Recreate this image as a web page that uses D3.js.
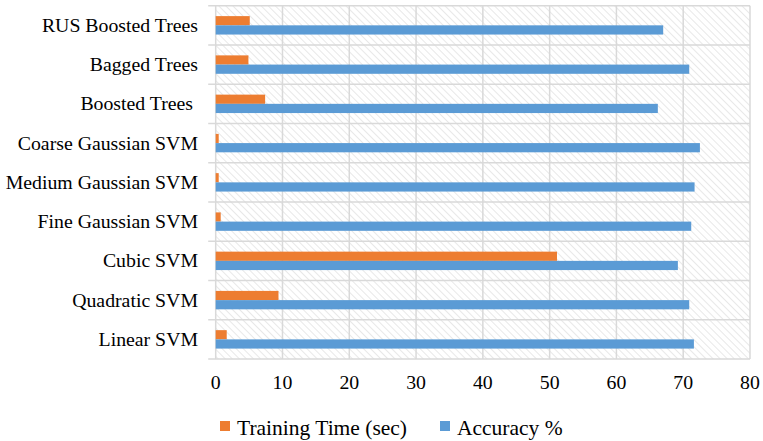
<!DOCTYPE html>
<html>
<head>
<meta charset="utf-8">
<script src="https://cdn.jsdelivr.net/npm/d3@7"></script>
<style>
  html, body { margin: 0; padding: 0; background: #fff; }
  svg { display: block; }
</style>
</head>
<body>
<div id="chart"></div>
<script>
// Classifier models, listed top to bottom
const models = [
  "RUS Boosted Trees", "Bagged Trees", "Boosted Trees ", "Coarse Gaussian SVM",
  "Medium Gaussian SVM", "Fine Gaussian SVM", "Cubic SVM", "Quadratic SVM", "Linear SVM"
];
const trainingTime = [5.1, 4.9, 7.4, 0.45, 0.45, 0.75, 51.1, 9.4, 1.65];
const accuracy = [67.0, 70.9, 66.2, 72.5, 71.7, 71.2, 69.2, 70.9, 71.6];
const seriesNames = ["Training Time (sec)", "Accuracy %"];
const seriesColors = ["#ED7D31", "#5B9BD5"];
const xTicks = [0, 10, 20, 30, 40, 50, 60, 70, 80];

const FONT = "'Liberation Serif', serif";
const W = 763, H = 441;
const plot = { left: 215.7, right: 750, top: 5.7, bottom: 359 };

const svg = d3.select("#chart").append("svg").attr("width", W).attr("height", H);

// Diagonal hatch fill for the plot background
const defs = svg.append("defs");
const pat = defs.append("pattern")
  .attr("id", "hatch").attr("patternUnits", "userSpaceOnUse")
  .attr("width", 5).attr("height", 5)
  .attr("patternTransform", "rotate(-45)");
pat.append("rect").attr("width", 5).attr("height", 5).attr("fill", "#fff");
pat.append("line").attr("x1", 0).attr("y1", 0).attr("x2", 0).attr("y2", 5)
  .attr("stroke", "#e3e3e3").attr("stroke-width", 1.6);

const x = d3.scaleLinear().domain([0, 80]).range([plot.left, plot.right]);
const y = d3.scaleBand().domain(models).range([plot.top, plot.bottom]).padding(0);
const inner = d3.scaleBand().domain(seriesNames)
  .range([0, y.bandwidth()]).paddingOuter(1.13).paddingInner(0);

svg.append("rect")
  .attr("x", plot.left).attr("y", plot.top)
  .attr("width", plot.right - plot.left).attr("height", plot.bottom - plot.top)
  .attr("fill", "url(#hatch)");

// Gridlines
const grid = svg.append("g").attr("stroke", "#d9d9d9").attr("stroke-width", 1.5);
grid.selectAll("line.v").data(xTicks).join("line")
  .attr("x1", d => x(d)).attr("x2", d => x(d))
  .attr("y1", plot.top).attr("y2", plot.bottom);
const bounds = models.map(m => y(m)).concat([plot.bottom]);
grid.selectAll("line.h").data(bounds).join("line")
  .attr("x1", plot.left - 7.5).attr("x2", plot.right)
  .attr("y1", d => d).attr("y2", d => d);

// Bars
const rows = models.map((m, i) => ({ model: m, values: [trainingTime[i], accuracy[i]] }));
const rowG = svg.append("g").selectAll("g").data(rows).join("g")
  .attr("transform", d => `translate(0,${y(d.model)})`);
rowG.selectAll("rect").data(d => d.values.map((v, k) => ({ v, k }))).join("rect")
  .attr("x", x(0))
  .attr("y", d => inner(seriesNames[d.k]))
  .attr("width", d => x(d.v) - x(0))
  .attr("height", inner.bandwidth())
  .attr("fill", d => seriesColors[d.k]);

// Category axis labels
svg.append("g").selectAll("text").data(models).join("text")
  .attr("font-family", FONT)
  .attr("x", 198).attr("y", d => y(d) + y.bandwidth() / 2)
  .attr("dy", "0.33em").attr("text-anchor", "end")
  .style("white-space", "pre")
  .attr("font-size", 19.8)
  .text(d => d);

// Value axis labels
svg.append("g").selectAll("text").data(xTicks).join("text")
  .attr("font-family", FONT)
  .attr("x", d => x(d)).attr("y", 382).attr("dy", "0.33em")
  .attr("text-anchor", "middle").attr("font-size", 19.8)
  .text(d => d);

// Legend
const legend = svg.append("g");
const legendX = [220, 440];
seriesNames.forEach((name, i) => {
  legend.append("rect").attr("x", legendX[i]).attr("y", 421)
    .attr("width", 10).attr("height", 10).attr("fill", seriesColors[i]);
  legend.append("text").attr("font-family", FONT)
    .attr("x", legendX[i] + 17).attr("y", 428)
    .attr("dy", "0.33em").attr("font-size", 21.5).text(name);
});
</script>
</body>
</html>
